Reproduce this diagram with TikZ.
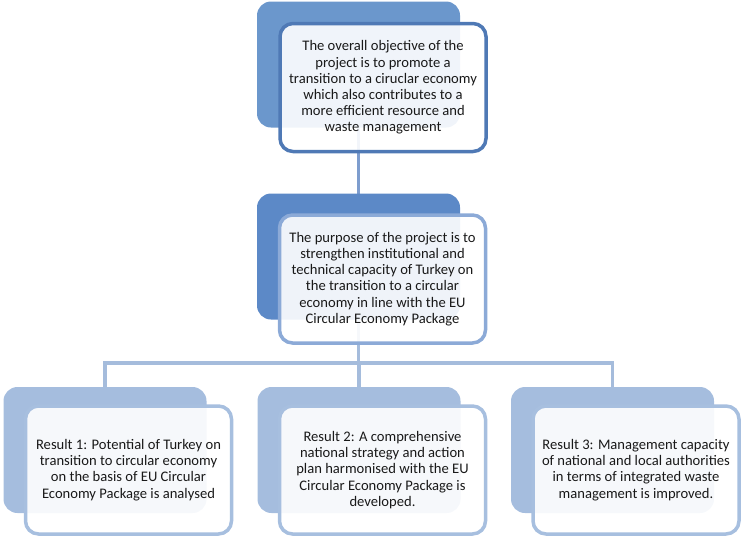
\documentclass[tikz,border=0pt]{standalone}
\usepackage{fontspec}
\setmainfont{Carlito}
\usetikzlibrary{positioning, backgrounds}

\begin{document}
\begin{tikzpicture}[x=1pt, y=-1pt,
        backbox/.style={rounded corners=14pt, minimum width=203pt, minimum height=126pt, inner sep=0pt},
        frontbox/.style={draw, line width=3.5pt, rounded corners=13pt, fill=white, fill opacity=0.9, text opacity=1,
            minimum width=206pt, minimum height=128pt, inner sep=2pt, align=center,
            font=\fontsize{14.6}{16.2}\selectfont, text=black!90},
        link/.style={line width=3pt, line cap=rect}]
        % colours
        \definecolor{topback}{RGB}{107, 151, 204}
        \definecolor{topedge}{RGB}{79, 121, 181}
        \definecolor{midback}{RGB}{92, 137, 199}
        \definecolor{midedge}{RGB}{140, 170, 215}
        \definecolor{resback}{RGB}{165, 189, 222}
        \definecolor{resedge}{RGB}{167, 191, 223}
        \definecolor{topline}{RGB}{126, 157, 206}
        \definecolor{busline}{RGB}{165, 188, 220}

        \useasboundingbox (0,0) rectangle (741,539);

        % 1. Overall objective
        \node[backbox, fill=topback] (objback) at (358.5, 64.5) {};
        \node[frontbox, draw=topedge] (objbox) at (383, 87.5) {The overall objective of the\\project is to promote a\\transition to a ciruclar economy\\which also contributes to a\\more efficient resource and\\waste management};

        % 2. Purpose
        \node[backbox, fill=midback] (goalback) at (358.5, 256.5) {};
        \node[frontbox, draw=midedge] (goalbox) at (382.5, 279) {The purpose of the project is to\\strengthen institutional and\\technical capacity of Turkey on\\the transition to a circular\\economy in line with the EU\\Circular Economy Package};

        % 3. Results
        \foreach \x/\txt [count=\i] in {105/{Result 1: Potential of Turkey on\\transition to circular economy\\on the basis of EU Circular\\Economy Package is analysed},
                359/{Result 2: A comprehensive\\national strategy and action\\plan harmonised with the EU\\Circular Economy Package is\\developed.},
                612.5/{Result 3: Management capacity\\of national and local authorities\\in terms of integrated waste\\management is improved.}} {
            \node[backbox, fill=resback] (resback\i) at (\x, 450) {};
            \node[frontbox, draw=resedge] (resbox\i) at ({\x+23.5}, 470) {\txt};
        }

        % 4. Connectors behind the boxes
        \begin{scope}[on background layer]
            \draw[link, topline] (objback.center) -- (goalback.center);
            \coordinate (bus) at (358.5, 363);
            \draw[link, busline, line width=3.5pt] (goalback.center) -- (bus);
            \foreach \i in {1,2,3}
                \draw[link, busline, line width=3.5pt] (bus) -| (resback\i.center);
        \end{scope}

    \end{tikzpicture}
\end{document}
